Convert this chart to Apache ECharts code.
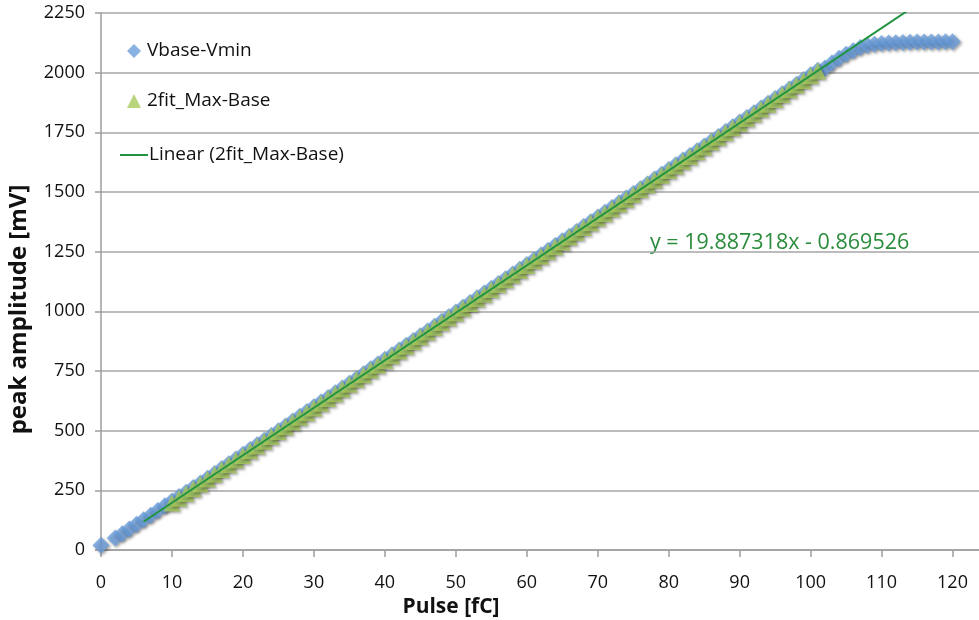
<!DOCTYPE html>
<html>
<head>
<meta charset="utf-8">
<script src="https://cdn.jsdelivr.net/npm/echarts@6/dist/echarts.min.js"></script>
<style>
html,body{margin:0;padding:0;background:#fff;}
#chart{width:979px;height:620px;}
</style>
</head>
<body>
<div id="chart"></div>
<script>
// ---- data ----
var pulseV = [0, 2, 3, 4, 5, 6, 7, 8, 9,
  10, 11, 12, 13, 14, 15, 16, 17, 18, 19,
  20, 21, 22, 23, 24, 25, 26, 27, 28, 29,
  30, 31, 32, 33, 34, 35, 36, 37, 38, 39,
  40, 41, 42, 43, 44, 45, 46, 47, 48, 49,
  50, 51, 52, 53, 54, 55, 56, 57, 58, 59,
  60, 61, 62, 63, 64, 65, 66, 67, 68, 69,
  70, 71, 72, 73, 74, 75, 76, 77, 78, 79,
  80, 81, 82, 83, 84, 85, 86, 87, 88, 89,
  90, 91, 92, 93, 94, 95, 96, 97, 98, 99,
  100, 101, 102, 103, 104, 105, 106, 107, 108, 109,
  110, 111, 112, 113, 114, 115, 116, 117, 118, 119, 120];
var vbaseVmin = [20, 50, 68, 88, 108, 127, 146, 166, 185,
  205, 224, 242, 262, 281, 301, 321, 341, 361, 381,
  401, 421, 441, 460, 480, 500, 520, 540, 560, 580,
  600, 620, 639, 659, 679, 699, 719, 739, 759, 779,
  799, 818, 838, 858, 878, 898, 918, 938, 958, 977,
  997, 1017, 1037, 1057, 1077, 1097, 1117, 1137, 1156, 1176,
  1196, 1216, 1236, 1256, 1276, 1296, 1315, 1335, 1355, 1375,
  1395, 1415, 1435, 1455, 1475, 1494, 1514, 1534, 1554, 1574,
  1594, 1614, 1634, 1653, 1673, 1693, 1713, 1733, 1753, 1773,
  1793, 1812, 1832, 1852, 1872, 1892, 1912, 1932, 1951, 1971,
  1991, 2010, 2018, 2040, 2060, 2077, 2092, 2105, 2114, 2119,
  2122, 2124, 2125, 2126, 2127, 2128, 2128, 2129, 2129, 2130, 2130];

var pulseFit = [10, 11, 12, 13, 14, 15, 16, 17, 18, 19,
  20, 21, 22, 23, 24, 25, 26, 27, 28, 29,
  30, 31, 32, 33, 34, 35, 36, 37, 38, 39,
  40, 41, 42, 43, 44, 45, 46, 47, 48, 49,
  50, 51, 52, 53, 54, 55, 56, 57, 58, 59,
  60, 61, 62, 63, 64, 65, 66, 67, 68, 69,
  70, 71, 72, 73, 74, 75, 76, 77, 78, 79,
  80, 81, 82, 83, 84, 85, 86, 87, 88, 89,
  90, 91, 92, 93, 94, 95, 96, 97, 98, 99,
  100, 101];
var fitMaxBase = [197, 217, 237, 257, 277, 297, 317, 337, 357, 377,
  396, 416, 436, 456, 476, 496, 516, 536, 556, 575,
  595, 615, 635, 655, 675, 695, 715, 734, 754, 774,
  794, 814, 834, 854, 874, 893, 913, 933, 953, 973,
  993, 1013, 1033, 1053, 1072, 1092, 1112, 1132, 1152, 1172,
  1192, 1212, 1231, 1251, 1271, 1291, 1311, 1331, 1351, 1371,
  1391, 1410, 1430, 1450, 1470, 1490, 1510, 1530, 1550, 1570,
  1590, 1609, 1629, 1649, 1669, 1689, 1709, 1729, 1749, 1769,
  1788, 1808, 1828, 1848, 1868, 1888, 1908, 1928, 1948, 1967,
  1987, 2007];

// linear trendline (from the printed equation)
var trendSlope = 19.887318;
var trendIntercept = -0.869526;
var trendRange = [6, 115];
var trendLabel = 'y = 19.887318x - 0.869526';

var seriesNames = ['Vbase-Vmin', '2fit_Max-Base', 'Linear (2fit_Max-Base)'];
var xTicks = [0, 10, 20, 30, 40, 50, 60, 70, 80, 90, 100, 110, 120];
var yTicks = [0, 250, 500, 750, 1000, 1250, 1500, 1750, 2000, 2250];

function zip(a, b) { return a.map(function (v, i) { return [v, b[i]]; }); }
var trendData = trendRange.map(function (x) { return [x, trendSlope * x + trendIntercept]; });

var FONT = 'Open Sans';
var chart = echarts.init(document.getElementById('chart'), null, {renderer: 'canvas'});
var shadow = {shadowBlur: 3, shadowColor: 'rgba(0,0,0,0.45)', shadowOffsetX: 1.5, shadowOffsetY: 1.5};
var legendText = {fontFamily: FONT, fontSize: 19, color: '#111', lineHeight: 20};

chart.setOption({
  animation: false,
  backgroundColor: '#ffffff',
  grid: {left: 101, right: -9, top: 13, bottom: 70, containLabel: false, outerBoundsMode: 'none'},
  legend: [
    {
      orient: 'vertical', left: 122, top: 36,
      itemWidth: 14, itemHeight: 14, itemGap: 30,
      textStyle: Object.assign({padding: [0, 0, 0, 1]}, legendText),
      data: [
        {name: seriesNames[0], icon: 'diamond'},
        {name: seriesNames[1], icon: 'triangle'}
      ]
    },
    {
      orient: 'vertical', left: 115, top: 140,
      itemWidth: 28, itemHeight: 12,
      textStyle: Object.assign({padding: [0, 0, 0, -4]}, legendText),
      data: [
        {name: seriesNames[2], icon: 'path://M0,0 L28,0 L28,2 L0,2 Z'}
      ]
    }
  ],
  xAxis: {
    type: 'value', min: 0, max: 125, interval: 10,
    name: 'Pulse [fC]', nameLocation: 'middle', nameGap: 44,
    nameTextStyle: {fontFamily: FONT, fontSize: 21, fontWeight: 'bold', color: '#111', padding: [0, 187, 0, 0]},
    axisLine: {show: true, lineStyle: {color: '#9d9d9d', width: 1.5}},
    axisTick: {show: true, length: 7, lineStyle: {color: '#9d9d9d', width: 1.5}},
    axisLabel: {fontFamily: FONT, fontSize: 18, color: '#111', margin: 24,
      formatter: function (v) { return xTicks.indexOf(v) >= 0 ? String(v) : ''; }},
    splitLine: {show: false}
  },
  yAxis: {
    type: 'value', min: 0, max: 2250, interval: 250,
    name: 'peak amplitude [mV]', nameLocation: 'middle', nameGap: 70, nameRotate: 90,
    nameTextStyle: {fontFamily: FONT, fontSize: 24, fontWeight: 'bold', color: '#111', padding: [0, 56, 0, 0]},
    axisLine: {show: true, lineStyle: {color: '#9d9d9d', width: 1.5}},
    axisTick: {show: true, length: 6, lineStyle: {color: '#9d9d9d', width: 1.5}},
    axisLabel: {fontFamily: FONT, fontSize: 18, color: '#111', margin: 16,
      formatter: function (v) { return yTicks.indexOf(v) >= 0 ? String(v) : ''; }},
    splitLine: {show: true, lineStyle: {color: '#a6a6a6', width: 1.5}}
  },
  series: [
    {
      name: seriesNames[0], type: 'scatter', symbol: 'diamond', symbolSize: 17,
      itemStyle: Object.assign({color: '#6b9fdc'}, shadow),
      data: zip(pulseV, vbaseVmin), z: 2
    },
    {
      name: seriesNames[1], type: 'scatter', symbol: 'triangle', symbolSize: 17,
      itemStyle: Object.assign({color: '#a7cb5c'}, shadow),
      data: zip(pulseFit, fitMaxBase), z: 3
    },
    {
      name: seriesNames[2], type: 'line', symbol: 'none', clip: true,
      lineStyle: {color: '#1f9440', width: 2},
      itemStyle: {color: '#1f9440'},
      data: trendData, z: 4
    }
  ],
  graphic: [{
    type: 'text', left: 650, top: 232,
    style: {text: trendLabel, fontFamily: FONT, fontSize: 21.5, fill: '#2a8c3c'}
  }]
});
</script>
</body>
</html>
